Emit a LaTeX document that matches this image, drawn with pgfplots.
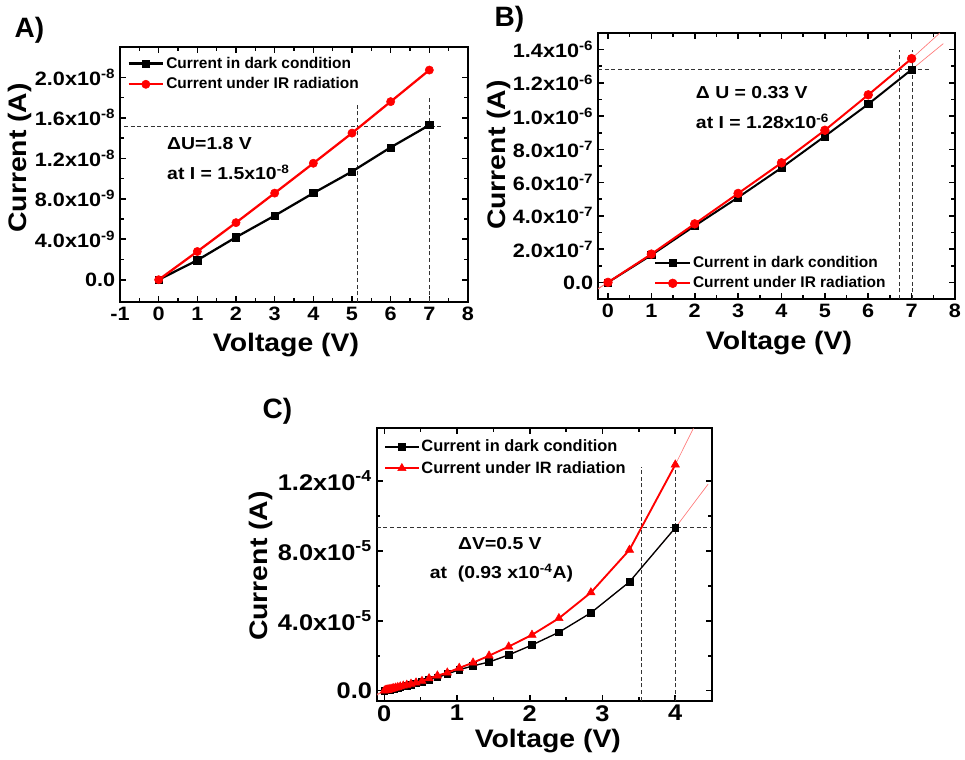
\documentclass[border=0pt]{standalone}
\usepackage{fontspec}
\setmainfont{Liberation Sans}
\newfontfamily\wfont{Liberation Sans}[FakeStretch=1.12]
\usepackage{pgfplots}
\pgfplotsset{compat=1.18}
\definecolor{fitred}{RGB}{255,120,120}
\newcommand{\tkf}{\wfont\bfseries\fontsize{14.5}{16}\selectfont}
\newcommand{\tkfC}{\wfont\bfseries\fontsize{17}{19}\selectfont}
\newcommand{\labf}{\wfont\bfseries\fontsize{19}{22}\selectfont}
\newcommand{\annf}{\wfont\bfseries\fontsize{13}{15}\selectfont}
\newcommand{\legf}{\bfseries\fontsize{11.6}{13}\selectfont}
\pgfplotsset{
  panel/.style={scale only axis, anchor=south west,
    axis line style={line width=1.4pt},
    every tick/.style={black,line width=1.2pt},
    major tick length=4.5pt, minor tick length=2.8pt,
    tick align=inside, scaled ticks=false, clip mode=individual,
    minor x tick num=1, minor y tick num=1,
    ticklabel style={font=\tkf},
    xlabel style={font=\labf, anchor=center},
    ylabel style={font=\labf, anchor=center},
    legend cell align=left,
    legend style={draw=none, fill=none, font=\legf, row sep=2.6pt, nodes={inner sep=1.5pt}},
    legend image code/.code={\draw[mark repeat=2,mark phase=2,##1] plot coordinates {(0pt,0pt) (13pt,0pt) (26pt,0pt)};},
  },
  dashln/.style={black!80, line width=0.75pt, dash pattern=on 3pt off 2pt, forget plot},
  fitln/.style={fitred, line width=0.5pt, forget plot},
}
\begin{document}
\begin{tikzpicture}
\useasboundingbox (0,0) rectangle (723.75pt,570pt);
% ---------------- Panel A
\begin{axis}[panel, at={(90pt,343.5pt)}, width=261pt, height=191.25pt,
  xmin=-1, xmax=8, ymin=-2.2e-9, ymax=2.3e-8,
  xtick={-1,0,1,2,3,4,5,6,7,8}, xticklabels={-1,0,1,2,3,4,5,6,7,8},
  ytick={0,4e-9,8e-9,1.2e-8,1.6e-8,2e-8},
  yticklabels={0.0,4.0x10\textsuperscript{-9},8.0x10\textsuperscript{-9},1.2x10\textsuperscript{-8},1.6x10\textsuperscript{-8},2.0x10\textsuperscript{-8}},
  xlabel={Voltage (V)}, ylabel={Current (A)},
  xlabel style={at={(axis description cs:0.477,-0.169)}},
  ylabel style={at={(axis description cs:-0.287,0.565)}},
  legend style={at={(axis description cs:0.009,0.98)}, anchor=north west},
]
\addplot[dashln] coordinates {(-0.9,1.51e-8) (7.35,1.51e-8)};
\addplot[dashln] coordinates {(5.14,-2.2e-9) (5.14,1.744e-8)};
\addplot[dashln] coordinates {(7,-2.2e-9) (7,1.81e-8)};
\addplot[black, line width=1.7pt, mark=square*, mark size=2.7pt, mark options={solid,line width=0.4pt}]
  coordinates {(0,0)(1,1.93e-9)(2,4.2e-9)(3,6.33e-9)(4,8.56e-9)(5,1.069e-8)(6,1.308e-8)(7,1.528e-8)};
\addlegendentry{Current in dark condition}
\addplot[red, line width=1.7pt, mark=*, mark size=3.1pt, mark options={solid,line width=0.4pt}]
  coordinates {(0,0)(1,2.79e-9)(2,5.64e-9)(3,8.56e-9)(4,1.151e-8)(5,1.449e-8)(6,1.76e-8)(7,2.072e-8)};
\addlegendentry{Current under IR radiation}
\node[anchor=base west, font=\annf] at (axis cs:0.10,1.288e-8) {ΔU=1.8 V};
\node[anchor=base west, font=\annf] at (axis cs:0.10,9.92e-9) {at I = 1.5x10\textsuperscript{-8}};
\end{axis}
% ---------------- Panel B
\begin{axis}[panel, at={(448.5pt,345.75pt)}, width=267.75pt, height=199.5pt,
  xmin=-0.23, xmax=8, ymin=-1e-7, ymax=1.5e-6,
  xtick={0,1,2,3,4,5,6,7,8}, xticklabels={0,1,2,3,4,5,6,7,8},
  ytick={0,2e-7,4e-7,6e-7,8e-7,1e-6,1.2e-6,1.4e-6},
  yticklabels={0.0,2.0x10\textsuperscript{-7},4.0x10\textsuperscript{-7},6.0x10\textsuperscript{-7},8.0x10\textsuperscript{-7},1.0x10\textsuperscript{-6},1.2x10\textsuperscript{-6},1.4x10\textsuperscript{-6}},
  xlabel={Voltage (V)}, ylabel={Current (A)},
  xlabel style={at={(axis description cs:0.507,-0.165)}},
  ylabel style={at={(axis description cs:-0.277,0.541)}},
  legend style={at={(axis description cs:0.146,0.18)}, anchor=north west},
]
\addplot[fitln] coordinates {(-0.23,-3.7e-8)(0,0)(1,1.64e-7)(2,3.40e-7)(3,5.11e-7)(4,6.89e-7)(5,8.79e-7)(6,1.072e-6)(7,1.28e-6)(7.73,1.436e-6)};
\addplot[fitln] coordinates {(-0.23,-4e-8)(0,0)(1,1.70e-7)(2,3.52e-7)(3,5.35e-7)(4,7.19e-7)(5,9.15e-7)(6,1.128e-6)(7,1.346e-6)(7.65,1.5e-6)};
\addplot[dashln] coordinates {(-0.23,1.28e-6) (7.42,1.28e-6)};
\addplot[dashln] coordinates {(6.71,-1e-7) (6.71,1.396e-6)};
\addplot[dashln] coordinates {(7.02,-1e-7) (7.02,1.396e-6)};
\addplot[black, line width=1.5pt, mark=square*, mark size=2.7pt, mark options={solid,line width=0.4pt}]
  coordinates {(0,0)(1,1.64e-7)(2,3.40e-7)(3,5.11e-7)(4,6.89e-7)(5,8.79e-7)(6,1.072e-6)(7,1.28e-6)};
\addlegendentry{Current in dark condition}
\addplot[red, line width=1.5pt, mark=*, mark size=3.3pt, mark options={solid,line width=0.4pt}]
  coordinates {(0,0)(1,1.70e-7)(2,3.52e-7)(3,5.35e-7)(4,7.19e-7)(5,9.15e-7)(6,1.128e-6)(7,1.346e-6)};
\addlegendentry{Current under IR radiation}
\node[anchor=base west, font=\annf] at (axis cs:1.92,1.106e-6) {Δ U = 0.33 V};
\node[anchor=base west, font=\annf] at (axis cs:1.92,9.25e-7) {at I = 1.28x10\textsuperscript{-6}};
\end{axis}
% ---------------- Panel C
\begin{axis}[panel, at={(282.5pt,44.5pt)}, width=251.25pt, height=204.3pt,
  xmin=-0.105, xmax=4.5, ymin=-0.57e-5, ymax=1.5e-4,
  ticklabel style={font=\tkfC},
  xtick={0,1,2,3,4}, xticklabels={0,1,2,3,4},
  ytick={0,4e-5,8e-5,1.2e-4},
  yticklabels={0.0,4.0x10\textsuperscript{-5},8.0x10\textsuperscript{-5},1.2x10\textsuperscript{-4}},
  xlabel={Voltage (V)}, ylabel={Current (A)},
  xlabel style={at={(axis description cs:0.511,-0.148)}},
  ylabel style={at={(axis description cs:-0.345,0.494)}},
  legend style={at={(axis description cs:0.01,0.975)}, anchor=north west, font=\bfseries\fontsize{12.3}{14}\selectfont},
  legend image code/.code={\draw[mark repeat=2,mark phase=2,#1] plot coordinates {(0pt,0pt) (12.5pt,0pt) (25pt,0pt)};},
]
\addplot[fitln] coordinates {(-0.1,-0.2e-5)(0,0)(0.518,0.5e-5)(1.03,1.2e-5)(1.44,1.64e-5)(2.03,2.61e-5)(2.40,3.34e-5)(2.84,4.45e-5)(3.37,6.22e-5)(4.0,9.31e-5)(4.45,11.8e-5)};
\addplot[fitln] coordinates {(-0.1,-0.25e-5)(0,0)(0.518,0.55e-5)(1.03,1.3e-5)(1.44,2.0e-5)(2.03,3.19e-5)(2.40,4.14e-5)(2.84,5.61e-5)(3.37,8.05e-5)(4.0,12.92e-5)(4.25,15e-5)};
\addplot[dashln] coordinates {(-0.105,9.31e-5) (4.5,9.31e-5)};
\addplot[dashln] coordinates {(3.54,-0.57e-5) (3.54,1.28e-4)};
\addplot[dashln] coordinates {(4,-0.57e-5) (4,1.29e-4)};
\addplot[black, line width=1pt, mark=square*, mark size=2.5pt, mark options={solid,line width=0.4pt}]
  coordinates {(0,0)(0.02,0.017e-5)(0.024,0.02e-5)(0.028,0.025e-5)(0.033,0.03e-5)(0.04,0.035e-5)(0.047,0.042e-5)(0.056,0.05e-5)(0.066,0.06e-5)(0.078,0.07e-5)(0.093,0.085e-5)(0.11,0.1e-5)(0.131,0.12e-5)(0.156,0.145e-5)(0.185,0.172e-5)(0.219,0.205e-5)(0.26,0.245e-5)(0.309,0.29e-5)(0.367,0.35e-5)(0.436,0.42e-5)(0.518,0.5e-5)(0.615,0.62e-5)(0.73,0.76e-5)(0.866,0.95e-5)(1.03,1.2e-5)(1.22,1.42e-5)(1.44,1.64e-5)(1.71,2.04e-5)(2.03,2.61e-5)(2.40,3.34e-5)(2.84,4.45e-5)(3.37,6.22e-5)(4.0,9.31e-5)};
\addlegendentry{Current in dark condition}
\addplot[red, line width=1.4pt, mark=triangle*, mark size=3.6pt, mark options={solid,line width=0.4pt}]
  coordinates {(0,0)(0.02,0.022e-5)(0.024,0.026e-5)(0.028,0.03e-5)(0.033,0.036e-5)(0.04,0.043e-5)(0.047,0.05e-5)(0.056,0.06e-5)(0.066,0.072e-5)(0.078,0.085e-5)(0.093,0.1e-5)(0.11,0.12e-5)(0.131,0.14e-5)(0.156,0.17e-5)(0.185,0.2e-5)(0.219,0.235e-5)(0.26,0.28e-5)(0.309,0.33e-5)(0.367,0.39e-5)(0.436,0.46e-5)(0.518,0.55e-5)(0.615,0.7e-5)(0.73,0.86e-5)(0.866,1.03e-5)(1.03,1.3e-5)(1.22,1.6e-5)(1.44,2.0e-5)(1.71,2.52e-5)(2.03,3.19e-5)(2.40,4.14e-5)(2.84,5.61e-5)(3.37,8.05e-5)(4.0,12.92e-5)};
\addlegendentry{Current under IR radiation}
\node[anchor=base west, font=\annf] at (axis cs:0.95,8.05e-5) {ΔV=0.5 V};
\node[anchor=base west, font=\annf] at (axis cs:0.56,6.43e-5) {at\ \ (0.93 x10\textsuperscript{-4}A)};
\end{axis}
\node[anchor=base west, font=\bfseries\fontsize{21}{24}\selectfont] at (7.5pt,541.5pt) {A)};
\node[anchor=base west, font=\bfseries\fontsize{21}{24}\selectfont] at (367.5pt,549.75pt) {B)};
\node[anchor=base west, font=\bfseries\fontsize{21}{24}\selectfont] at (193.5pt,255.75pt) {C)};
\end{tikzpicture}
\end{document}
